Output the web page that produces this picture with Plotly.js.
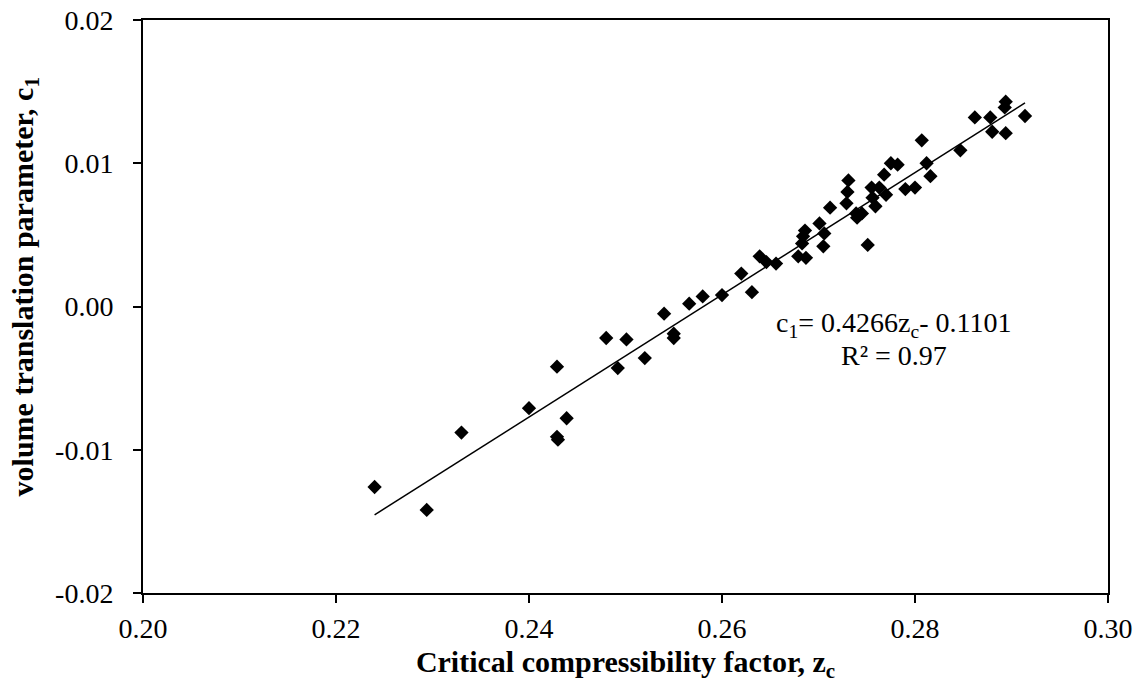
<!DOCTYPE html>
<html>
<head>
<meta charset="utf-8">
<script src="https://cdn.plot.ly/plotly-3.0.1.min.js"></script>
<style>html,body{margin:0;padding:0;background:#fff;}#chart{width:1145px;height:689px;}</style>
</head>
<body>
<div id="chart"></div>
<script>
// Critical compressibility factor, zc
const zc = [
  0.2240, 0.2294, 0.2330, 0.2400, 0.2429, 0.2429, 0.2430, 0.2439,
  0.2480, 0.2501, 0.2492, 0.2520, 0.2540, 0.2550, 0.2550,
  0.2566, 0.2580, 0.2600, 0.2620, 0.2631, 0.2639, 0.2646, 0.2656,
  0.2679, 0.2687, 0.2683, 0.2684, 0.2686, 0.2701, 0.2706, 0.2705,
  0.2712, 0.2729, 0.2730, 0.2731, 0.2739, 0.2740, 0.2745, 0.2751,
  0.2755, 0.2756, 0.2759, 0.2763, 0.2770, 0.2768, 0.2775, 0.2782,
  0.2790, 0.2800, 0.2807, 0.2812, 0.2816, 0.2847, 0.2880, 0.2894,
  0.2862, 0.2878, 0.2893, 0.2894, 0.2914
];
// volume translation parameter, c1
const c1 = [
  -0.0126, -0.0142, -0.0088, -0.0071, -0.0042, -0.0091, -0.0093, -0.0078,
  -0.0022, -0.0023, -0.0043, -0.0036, -0.0005, -0.0019, -0.0022,
  0.0002, 0.0007, 0.0008, 0.0023, 0.0010, 0.0035, 0.0031, 0.0030,
  0.0035, 0.0034, 0.0044, 0.0049, 0.0053, 0.0058, 0.0051, 0.0042,
  0.0069, 0.0072, 0.0080, 0.0088, 0.0065, 0.0062, 0.0065, 0.0043,
  0.0083, 0.0076, 0.0070, 0.0083, 0.0078, 0.0092, 0.0100, 0.0099,
  0.0082, 0.0083, 0.0116, 0.0100, 0.0091, 0.0109, 0.0122, 0.0121,
  0.0132, 0.0132, 0.0139, 0.0143, 0.0133
];
// Linear fit shown on the chart: c1 = 0.4266 zc - 0.1101
const fitSlope = 0.4266;
const fitIntercept = -0.1101;
const fitLabel = ["c<sub>1</sub>= 0.4266z<sub>c</sub>- 0.1101", "R² = 0.97"];

const xTickVals = [0.20, 0.22, 0.24, 0.26, 0.28, 0.30];
const xTickText = ["0.20", "0.22", "0.24", "0.26", "0.28", "0.30"];
const yTickVals = [-0.02, -0.01, 0.00, 0.01, 0.02];
const yTickText = ["-0.02", "-0.01", "0.00", "0.01", "0.02"];
const xTitle = "<b>Critical compressibility factor, z<sub>c</sub></b>";
const yTitle = "<b>volume translation parameter, c<sub>1</sub></b>";

const xFit = [Math.min(...zc), Math.max(...zc)];
const yFit = xFit.map(v => fitSlope * v + fitIntercept);

const serif = "Liberation Serif, Times New Roman, serif";

const data = [
  {
    x: zc, y: c1, type: "scatter", mode: "markers",
    marker: {symbol: "diamond", size: 11, color: "#000"},
    showlegend: false, cliponaxis: false
  },
  {
    x: xFit, y: yFit, type: "scatter", mode: "lines",
    line: {color: "#000", width: 1.5},
    showlegend: false
  }
];

const layout = {
  width: 1145, height: 689,
  margin: {l: 143, r: 37, t: 20, b: 96},
  paper_bgcolor: "#fff", plot_bgcolor: "#fff",
  font: {family: serif, color: "#000", size: 28},
  xaxis: {
    range: [0.20, 0.30], tickvals: xTickVals, ticktext: xTickText,
    ticks: "outside", ticklen: 8, tickwidth: 1.5, tickcolor: "#000",
    ticklabelstandoff: 1,
    showline: true, linecolor: "#000", linewidth: 2, mirror: true,
    showgrid: false, zeroline: false, automargin: false,
    tickfont: {family: serif, size: 28, color: "#000"},
    title: {text: xTitle, font: {family: serif, size: 30, color: "#000"}, standoff: 8}
  },
  yaxis: {
    range: [-0.02, 0.02], tickvals: yTickVals, ticktext: yTickText,
    ticks: "outside", ticklen: 8, tickwidth: 1.5, tickcolor: "#000",
    ticklabelstandoff: 14,
    showline: true, linecolor: "#000", linewidth: 2, mirror: true,
    showgrid: false, zeroline: false, automargin: false,
    tickfont: {family: serif, size: 28, color: "#000"}
  },
  annotations: [
    {xref: "paper", yref: "paper", x: -0.1223, y: 0.535, xanchor: "center", yanchor: "middle",
     textangle: -90, text: yTitle, showarrow: false,
     font: {family: serif, size: 30, color: "#000"}},
    {xref: "paper", yref: "paper", x: 0.778, y: 0.468, xanchor: "center", yanchor: "middle",
     text: fitLabel[0], showarrow: false, font: {family: serif, size: 28, color: "#000"}},
    {xref: "paper", yref: "paper", x: 0.778, y: 0.415, xanchor: "center", yanchor: "middle",
     text: fitLabel[1], showarrow: false, font: {family: serif, size: 28, color: "#000"}}
  ]
};

Plotly.newPlot("chart", data, layout, {displayModeBar: false});
</script>
</body>
</html>
